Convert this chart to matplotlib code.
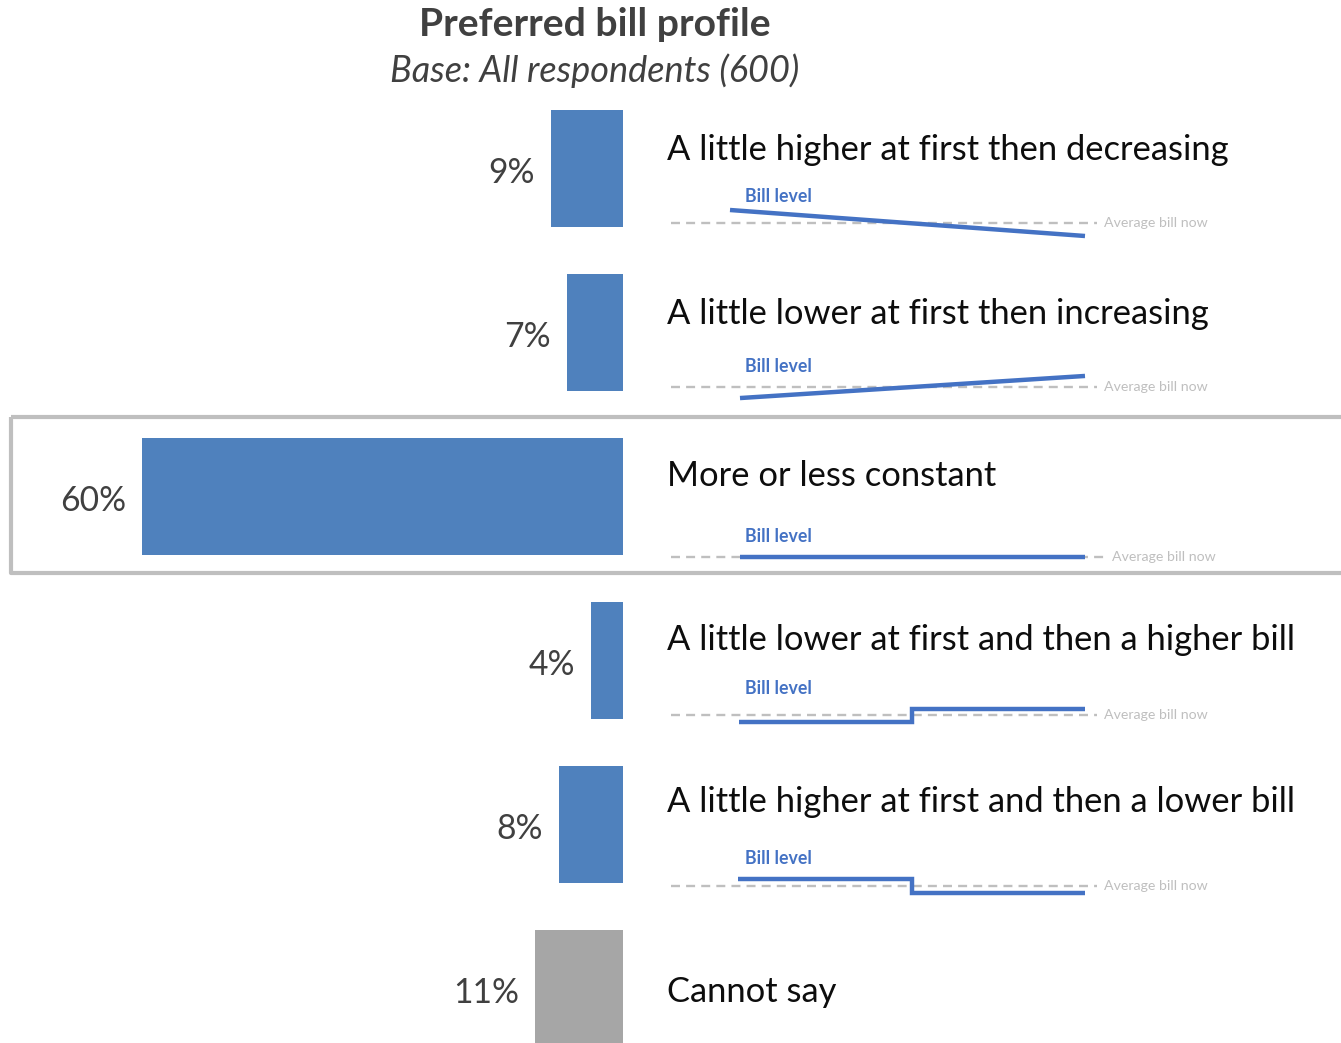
import matplotlib
matplotlib.use("Agg")
import matplotlib.pyplot as plt
from matplotlib.patches import Rectangle

# ---- data -------------------------------------------------------------
categories = [
    "A little higher at first then decreasing",
    "A little lower at first then increasing",
    "More or less constant",
    "A little lower at first and then a higher bill",
    "A little higher at first and then a lower bill",
    "Cannot say",
]
shares = [9, 7, 60, 4, 8, 11]
bar_colors = ["#4F81BD", "#4F81BD", "#4F81BD", "#4F81BD", "#4F81BD", "#A6A6A6"]

# bill profile sketches: time (0..1) and level relative to the average bill
profile_x = [
    [0, 1],
    [0, 1],
    [0, 1],
    [0, 0.5, 0.5, 1],
    [0, 0.5, 0.5, 1],
    None,
]
profile_y = [
    [1.0, -1.0],
    [-0.85, 0.85],
    [0, 0],
    [-0.5, -0.5, 0.5, 0.5],
    [0.55, 0.55, -0.5, -0.5],
    None,
]
highlight_row = 2

title = "Preferred bill profile"
subtitle = "Base: All respondents (600)"

# ---- styling ----------------------------------------------------------
FONT = "Lato"
W, H = 1341, 1043
DPI = 100
TEXT_DARK = "#404040"
LINE_BLUE = "#4472C4"
LIGHT_GREY = "#BFBFBF"

fig = plt.figure(figsize=(W / DPI, H / DPI), dpi=DPI)
fig.patch.set_facecolor("white")

# bar panel: bars grow leftwards from the baseline at x=623px
base_px = 623
px_per_pct = 8.02
row_pitch = 164
first_center = 168.5
ax = fig.add_axes([0, 0, base_px / W, 1])
ax.set_xlim(base_px / px_per_pct, 0)
ax.set_ylim((H - first_center) / row_pitch, -first_center / row_pitch)
ax.axis("off")

rows = list(range(len(categories)))
ax.barh(rows, shares, height=117 / row_pitch, color=bar_colors, linewidth=0)
for r, v in zip(rows, shares):
    ax.text(v + 2.0, r + 0.025, f"{v}%", ha="right", va="center",
            fontsize=24.2, color=TEXT_DARK, family=FONT)

# overlay in pixel units for the text column and titles
ov = fig.add_axes([0, 0, 1, 1])
ov.set_xlim(0, W)
ov.set_ylim(H, 0)
ov.axis("off")
ov.patch.set_alpha(0)

ov.text(595, 24, title, ha="center", va="center", fontsize=28.2,
        fontweight="bold", color=TEXT_DARK, family=FONT)
ov.text(595, 71, subtitle, ha="center", va="center", fontsize=26,
        style="italic", color=TEXT_DARK, family=FONT)

label_dy = [-19, -19, -20, -21, -22, 4]
avg_dy = [54.5, 54.5, 60.5, 54.5, 61.5, None]
avg_right = [1097, 1097, 1105, 1097, 1097, None]
line_start = [730, 740, 740, 739, 738, None]
bill_dy = [-26, -20, -20, -27, -27, None]

for r, cat in enumerate(categories):
    cy = first_center + r * row_pitch
    ov.text(667, cy + label_dy[r], cat, ha="left", va="center",
            fontsize=24.8, color="#0D0D0D", family=FONT)
    if profile_x[r] is None:
        continue
    y0 = cy + avg_dy[r]
    # small sketch axes: time runs 0..1 between the line start and 1085px
    left, right = 671, avg_right[r]
    t0, t1 = line_start[r], 1085
    span = t1 - t0
    sk_h = 52
    sk = fig.add_axes([left / W, (H - y0 - sk_h / 2) / H,
                       (right - left) / W, sk_h / H])
    sk.set_xlim((left - t0) / span, (right - t0) / span)
    sk.set_ylim(-2, 2)
    sk.axis("off")
    sk.patch.set_alpha(0)
    sk.axhline(0, color=LIGHT_GREY, lw=1.7, dashes=(3.8, 2.6))
    sk.plot(profile_x[r], profile_y[r], color=LINE_BLUE, lw=3.2,
            solid_capstyle="butt", solid_joinstyle="miter")
    ov.text(745, y0 + bill_dy[r], "Bill level",
            ha="left", va="center", fontsize=12.8, fontweight="bold",
            color=LINE_BLUE, family=FONT)
    ov.text(right + 7, y0, "Average bill now", ha="left", va="center",
            fontsize=10.2, color=LIGHT_GREY, family=FONT)

# frame around the highlighted row
hy = first_center + highlight_row * row_pitch
ov.add_patch(Rectangle((11, hy - 79.5), W + 20, 156, fill=False,
                       edgecolor=LIGHT_GREY, lw=3, clip_on=False,
                       joinstyle="round"))

fig.savefig("out.png", dpi=DPI, facecolor="white")
